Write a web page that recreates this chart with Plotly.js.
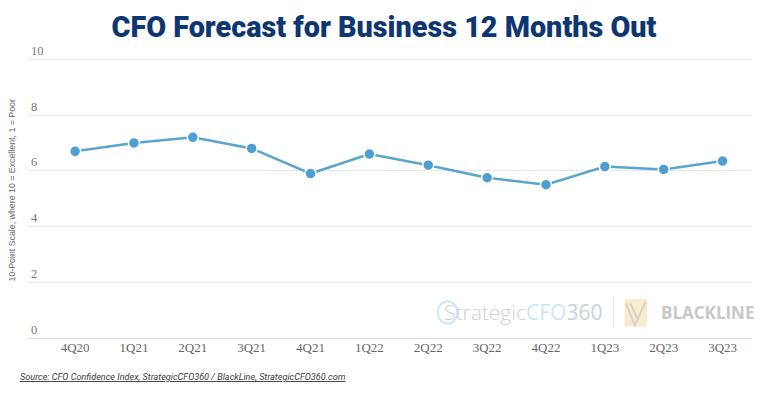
<!DOCTYPE html>
<html>
<head>
<meta charset="utf-8">
<script src="https://cdn.plot.ly/plotly-3.0.1.min.js"></script>
<style>
  html, body { margin: 0; padding: 0; background: #fff; }
  #chart { width: 768px; height: 396px; }
</style>
</head>
<body>
<div id="chart"></div>
<script>
const categories = ["4Q20", "1Q21", "2Q21", "3Q21", "4Q21", "1Q22", "2Q22", "3Q22", "4Q22", "1Q23", "2Q23", "3Q23"];
const forecastValues = [6.7, 7.0, 7.2, 6.8, 5.9, 6.6, 6.2, 5.75, 5.5, 6.15, 6.05, 6.35];
const yTickValues = [0, 2, 4, 6, 8, 10];
const yTickLabels = ["0", "2", "4", "6", "8", "10"];
const titleText = "CFO Forecast for Business 12 Months Out";
const yAxisTitle = "10-Point Scale, where 10 = Excellent, 1 = Poor";
const sourceText = "Source: CFO Confidence Index, StrategicCFO360 / BlackLine, StrategicCFO360.com";

const trace = {
  type: "scatter",
  mode: "lines+markers",
  x: categories,
  y: forecastValues,
  line: { color: "#5ba4cf", width: 2.5 },
  marker: { color: "#4e9fd1", size: 11, line: { color: "#ffffff", width: 1.5 } },
  hoverinfo: "x+y",
  cliponaxis: false
};

const layout = {
  width: 768,
  height: 396,
  margin: { l: 28, r: 16, t: 37, b: 58 },
  paper_bgcolor: "#ffffff",
  plot_bgcolor: "#ffffff",
  showlegend: false,
  title: {
    text: titleText,
    x: 0.5, xanchor: "center",
    y: 0.932, yanchor: "middle", yref: "container",
    font: { family: "Roboto", size: 28.8, color: "#0e3673", weight: 900 }
  },
  xaxis: {
    type: "category",
    range: [-0.8, 11.5],
    showgrid: false,
    zeroline: false,
    showline: false,
    ticks: "",
    tickfont: { family: "Liberation Serif", size: 13, color: "#666666" },
    fixedrange: true
  },
  yaxis: {
    range: [0, 10.8],
    tickvals: yTickValues,
    ticktext: yTickLabels,
    ticklabelposition: "inside top",
    tickfont: { family: "Liberation Serif", size: 12.5, color: "#777777" },
    gridcolor: "#e6e6e6",
    gridwidth: 1,
    zeroline: true,
    zerolinecolor: "#e0e0e0",
    zerolinewidth: 1,
    showline: false,
    ticks: "",
    title: { text: "" },
    fixedrange: true
  },
  annotations: [
    {
      text: yAxisTitle,
      xref: "paper", yref: "paper",
      x: 0, xshift: -16, y: 0.49,
      textangle: -90,
      showarrow: false,
      xanchor: "center", yanchor: "middle",
      font: { family: "Liberation Sans", size: 8.8, color: "#666666" }
    },
    {
      text: "<i><span style=\"text-decoration:underline\">" + sourceText + "</span></i>",
      xref: "paper", yref: "paper",
      x: 0, xshift: -10, y: 0, yshift: -39,
      showarrow: false,
      xanchor: "left", yanchor: "middle",
      font: { family: "Roboto", size: 9.1, color: "#3a3a3a" }
    },
    {
      text: "<span style=\"font-weight:300\">Strategic</span><span style=\"color:#cbe4f5\">CFO</span>360",
      xref: "paper", yref: "paper",
      x: 0.572, xanchor: "left",
      y: 0.085, yanchor: "middle",
      showarrow: false,
      font: { family: "Open Sans", size: 21, color: "#c8d2da" }
    },
    {
      text: "BLACKLINE",
      xref: "paper", yref: "paper",
      x: 1.005, xanchor: "right",
      y: 0.085, yanchor: "middle",
      showarrow: false,
      font: { family: "Open Sans", size: 17, color: "#c8c8c8", weight: 700 }
    }
  ],
  shapes: [
    { type: "circle", xref: "paper", yref: "paper",
      x0: 0.566, x1: 0.593, y0: 0.048, y1: 0.122,
      line: { color: "#cfe6f5", width: 2 }, fillcolor: "rgba(0,0,0,0)", layer: "below" },
    { type: "line", xref: "paper", yref: "paper",
      x0: 0.809, x1: 0.809, y0: 0.033, y1: 0.14,
      line: { color: "#e6e6e6", width: 1 } },
    { type: "rect", xref: "paper", yref: "paper",
      x0: 0.824, x1: 0.855, y0: 0.038, y1: 0.13,
      line: { width: 0 }, fillcolor: "#f7ecd0", layer: "below" },
    { type: "path", xref: "paper", yref: "paper",
      path: "M 0.826 0.115 L 0.838 0.043 L 0.853 0.12 M 0.832 0.115 L 0.841 0.068",
      line: { color: "#d9d2c0", width: 2 } }
  ]
};

Plotly.newPlot("chart", [trace], layout, { displayModeBar: false, staticPlot: true });
</script>
</body>
</html>
